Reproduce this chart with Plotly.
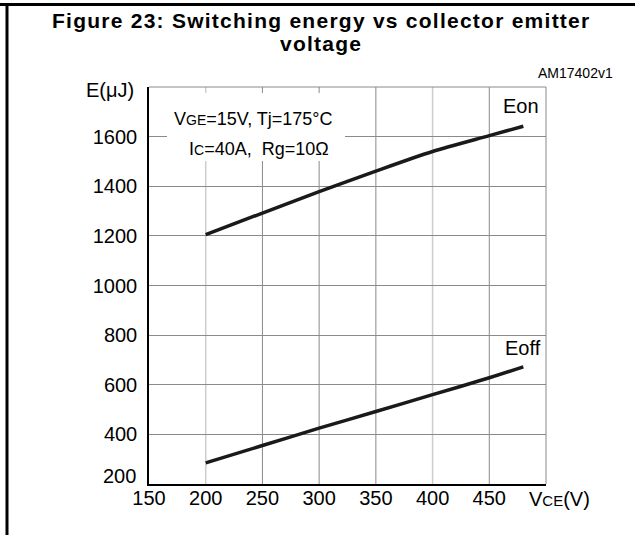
import plotly.graph_objects as go

# ---- data ----
vce = [200, 250, 300, 350, 400, 450, 480]
eon = [1205, 1292, 1378, 1461, 1540, 1604, 1642]
eoff = [285, 355, 425, 492, 560, 628, 672]

x_ticks = [150, 200, 250, 300, 350, 400, 450]
y_ticks = [200, 400, 600, 800, 1000, 1200, 1400, 1600]
dark_grid_x = [250, 300, 350, 450]
light_grid_x = [200, 400]

title_line1 = "Figure 23: Switching energy vs collector emitter"
title_line2 = "voltage"
cond_line1 = "V<span style='font-size:14px'>GE</span>=15V, Tj=175°C"
cond_line2 = "I<span style='font-size:14px'>C</span>=40A,  Rg=10Ω"

FONT = "Liberation Sans, Arial, sans-serif"
W, H = 635, 535
L, R, T, B = 149, 546, 87, 484  # plot area in pixels


def px(x):
    return (x - L) / (R - L)


def py(y):
    return (B - y) / (B - T)


fig = go.Figure()
fig.add_trace(go.Scatter(x=vce, y=eon, mode="lines",
                         line=dict(color="#1a1a1a", width=3.5, shape="spline", smoothing=0.8),
                         showlegend=False, hoverinfo="skip"))
fig.add_trace(go.Scatter(x=vce, y=eoff, mode="lines",
                         line=dict(color="#1a1a1a", width=3.5, shape="spline", smoothing=0.8),
                         showlegend=False, hoverinfo="skip"))

shapes = []
for v in dark_grid_x:
    shapes.append(dict(type="line", xref="x", yref="paper", x0=v, x1=v, y0=0, y1=1,
                       line=dict(color="#8a8a8a", width=1), layer="below"))
for v in light_grid_x:
    shapes.append(dict(type="line", xref="x", yref="paper", x0=v, x1=v, y0=0, y1=1,
                       line=dict(color="#cdcdcd", width=1.5), layer="below"))
# top and right plot border (gray)
shapes.append(dict(type="line", xref="paper", yref="paper", x0=0, x1=1, y0=1, y1=1,
                   line=dict(color="#8a8a8a", width=1)))
shapes.append(dict(type="line", xref="paper", yref="paper", x0=1, x1=1, y0=0, y1=1,
                   line=dict(color="#8a8a8a", width=1)))
# white background behind the conditions text
shapes.append(dict(type="rect", xref="paper", yref="paper", x0=px(167), x1=px(345),
                   y0=py(161), y1=py(93), fillcolor="white", line=dict(width=0), layer="above"))
# outer frame lines
shapes.append(dict(type="line", xref="paper", yref="paper", x0=px(0), x1=px(W), y0=py(4.5), y1=py(4.5),
                   line=dict(color="black", width=3)))
shapes.append(dict(type="line", xref="paper", yref="paper", x0=px(7), x1=px(7), y0=py(3), y1=py(H),
                   line=dict(color="black", width=3)))

TSTYLE = "letter-spacing:1.25px"


def add_text(x, y, text, size, **kw):
    return dict(xref="paper", yref="paper", x=px(x), y=py(y), text=text, showarrow=False,
                font=dict(family=FONT, size=size, color="black"),
                xanchor=kw.get("xanchor", "center"), yanchor="middle")


ann = [
    add_text(321, 20, "<b><span style='" + TSTYLE + "'>" + title_line1 + "</span></b>", 21),
    add_text(321, 44, "<b><span style='" + TSTYLE + "'>" + title_line2 + "</span></b>", 21),
    add_text(575, 73, "AM17402v1", 14),
    add_text(110, 90, "E(μJ)", 20),
    add_text(521, 106, "Eon", 20),
    add_text(523, 348, "Eoff", 20),
    add_text(559, 499, "V<span style='font-size:15px'>CE</span>(V)", 20),
    add_text(253.5, 119, cond_line1, 18),
    add_text(258.5, 148.5, cond_line2, 18),
    add_text(138, 476, str(y_ticks[0]), 20, xanchor="right"),
]

fig.update_layout(
    width=W, height=H,
    margin=dict(l=L, r=W - R, t=T, b=H - B),
    paper_bgcolor="white", plot_bgcolor="rgba(0,0,0,0)",
    font=dict(family=FONT, size=20, color="black"),
    shapes=shapes, annotations=ann,
    xaxis=dict(range=[150, 500], tickvals=x_ticks, ticktext=[str(v) for v in x_ticks],
               showgrid=False,
               showline=True, linecolor="black", linewidth=1.5,
               ticks="", ticklabelstandoff=-5,
               zeroline=False, tickfont=dict(size=20)),
    yaxis=dict(range=[200, 1800], tickvals=y_ticks,
               ticktext=[""] + [str(v) for v in y_ticks[1:]],
               showgrid=True, gridcolor="#8a8a8a", gridwidth=1,
               showline=True, linecolor="black", linewidth=1.5,
               ticks="outside", ticklen=6, tickcolor="rgba(0,0,0,0)",
               zeroline=False, tickfont=dict(size=20)),
)

fig.write_html("out.html", config={"displayModeBar": False},
               post_script="document.body.style.margin='0';")
